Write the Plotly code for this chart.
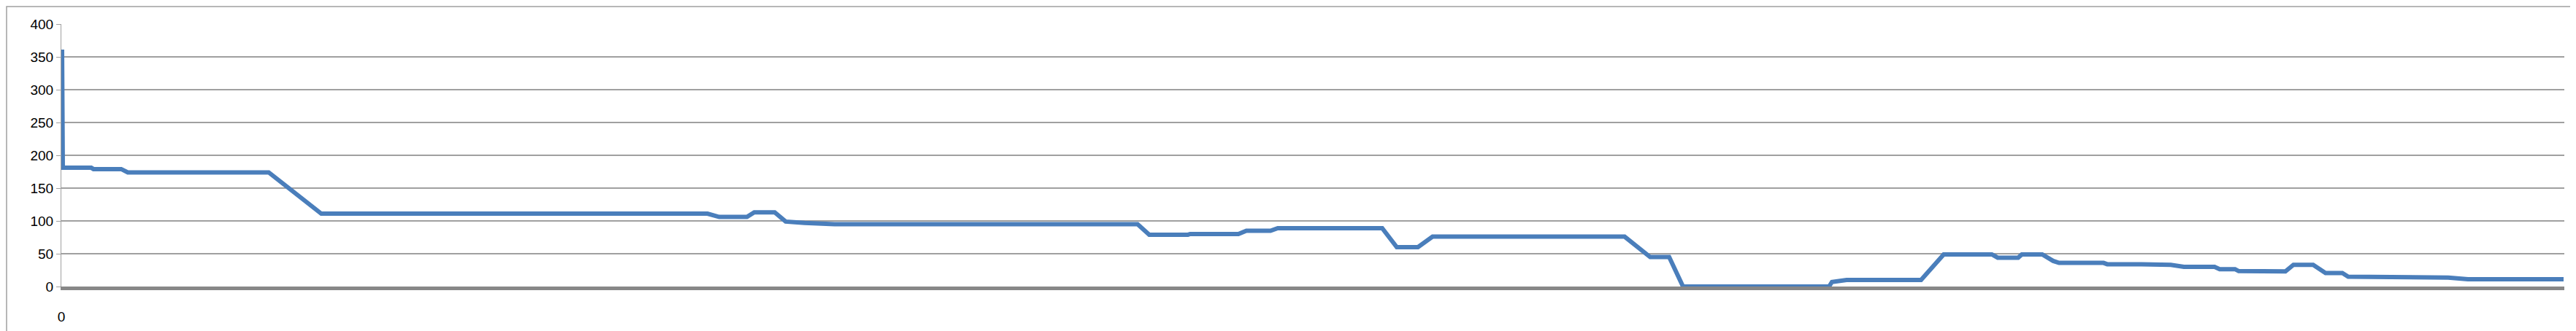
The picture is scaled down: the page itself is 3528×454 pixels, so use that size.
import plotly.graph_objects as go

# positions (sample index) and values
idx = [1, 2, 41, 44, 82, 91, 284, 356, 885, 901, 939, 949, 977, 992, 1018,
       1059, 1474, 1490, 1543, 1546, 1612, 1623, 1656, 1666, 1809, 1829, 1858,
       1878, 2141, 2176, 2202, 2221, 2421, 2425, 2445, 2547, 2578, 2644, 2652,
       2680, 2685, 2713, 2728, 2736, 2797, 2802, 2849, 2889, 2907, 2949, 2956,
       2977, 2982, 3046, 3057, 3084, 3101, 3124, 3132, 3157, 3177, 3269, 3296, 3427]
vals = [361, 181, 181, 179, 179, 174, 174, 111, 111, 106, 106, 113, 113, 99, 97,
        95, 95, 79, 79, 80, 80, 85, 85, 89, 89, 60, 60, 76, 76, 45, 45, 0,
        0, 7, 10, 10, 49, 49, 44, 44, 49, 49, 39, 36, 36, 34, 34, 33, 30, 30,
        26.5, 26.5, 23.5, 23, 33, 33, 20.5, 20.5, 15, 15, 13.5, 13.5, 11, 11]

y_ticks = [0, 50, 100, 150, 200, 250, 300, 350, 400]

fig = go.Figure()
fig.add_trace(go.Scatter(x=idx, y=vals, mode='lines',
                         line=dict(color='#4a7ebb', width=6), showlegend=False))

fig.update_layout(
    width=3528, height=454,
    margin=dict(l=76, r=24, t=25, b=69),
    paper_bgcolor='white', plot_bgcolor='white',
    font=dict(family='Liberation Sans, Arial', size=19, color='black'),
    xaxis=dict(range=[0, 3428], tickvals=[0], ticktext=['0'],
               showgrid=False, zeroline=False, showline=True,
               linecolor='#878787', linewidth=5, ticks='',
               ticklabelstandoff=20),
    yaxis=dict(range=[0, 400], tickvals=y_ticks, showgrid=True,
               gridcolor='#a0a0a0', gridwidth=1.5, zeroline=False,
               showline=True, linecolor='#a0a0a0', linewidth=1,
               ticks='outside', ticklen=6, tickcolor='#a0a0a0'),
    shapes=[dict(type='rect', xref='paper', yref='paper',
                 x0=-75/3428, x1=1+22/3428, y0=-68/360, y1=1+24/360,
                 line=dict(color='#a0a0a0', width=1.5))],
)

fig.write_html("out.html")
